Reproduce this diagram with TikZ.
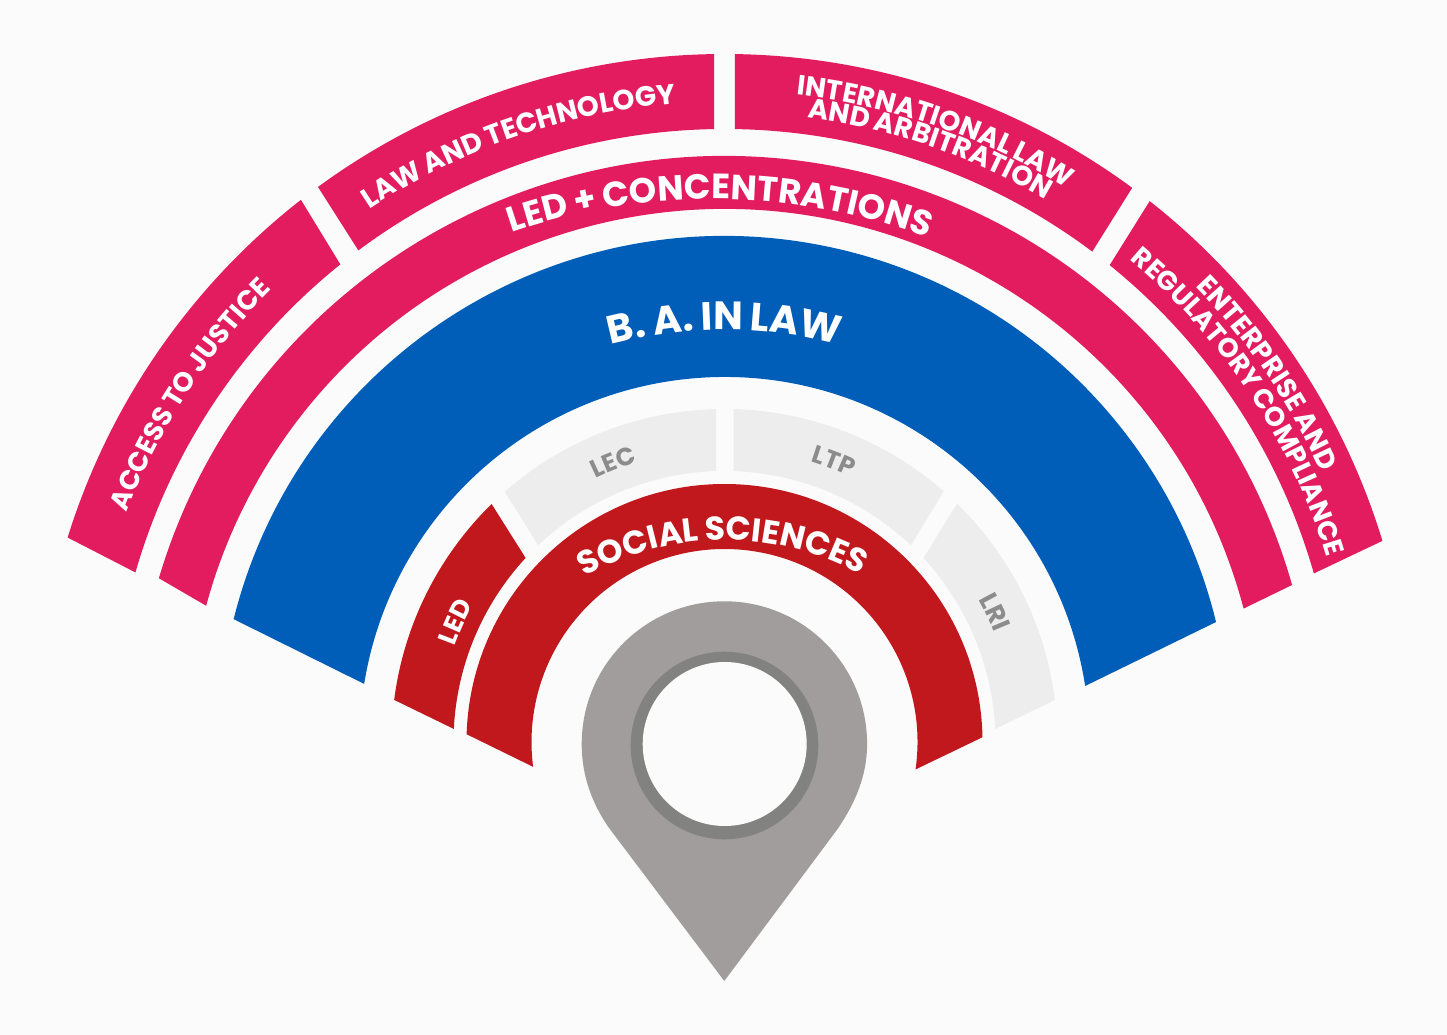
\documentclass[tikz,border=0pt]{standalone}
\usepackage{fontspec}
\setmainfont{Poppins}[WordSpace=0.85]
\usetikzlibrary{decorations.text}
\definecolor{pagebg}{HTML}{FBFBFB}
\definecolor{rosered}{HTML}{E21C5F}
\definecolor{lawblue}{HTML}{005EB8}
\definecolor{deepred}{HTML}{C0181C}
\definecolor{palegray}{HTML}{EDEDED}
\definecolor{labelgray}{HTML}{8C8C8C}
\definecolor{pingray}{HTML}{A09D9C}
\definecolor{ringgray}{HTML}{828280}
% colour, outer r, inner r, outer start/end angle, inner end/start angle
\newcommand{\ringsector}[7]{%
  \fill[#1] (#4:#2) arc[start angle=#4, end angle=#5, radius=#2]
    -- (#6:#3) arc[start angle=#6, end angle=#7, radius=#3] -- cycle;}
% colour, size, baseline r, mid angle, half span, text
\newcommand{\arclabel}[6]{%
  \path[decorate, decoration={text along path, text align=center,
      text={|\fontsize{#2}{#2}\bfseries\color{#1}|#6}}]
    (#4+#5:#3) arc[start angle=#4+#5, end angle=#4-#5, radius=#3];}
\begin{document}
\begin{tikzpicture}[x=1pt, y=1pt]
  \useasboundingbox (0,0) rectangle (1447,1035);
  \fill[pagebg] (0,0) rectangle (1447,1035);
  \begin{scope}[shift={(724.5,293)}]
    % outer band
    \ringsector{rosered}{688}{613}{162.71}{128.0}{128.81}{163.94}
    \ringsector{rosered}{688}{613}{126.22}{90.87}{90.98}{126.68}
    \ringsector{rosered}{688}{613}{89.13}{53.66}{53.13}{89.02}
    \ringsector{rosered}{688}{613}{51.83}{17.0}{15.96}{51.07}
    % concentrations
    \begin{scope}[yshift=-4]
      \ringsector{rosered}{590}{537}{163.48}{15.84}{14.83}{164.86}
    \end{scope}
    % degree
    \ringsector{lawblue}{506}{365}{165.95}{13.72}{8.83}{170.84}
    % inner band
    \ringsector{deepred}{333}{271}{172.74}{134.38}{137.22}{177.24}
    \ringsector{palegray}{333}{271}{131.28}{91.46}{91.8}{133.46}
    \ringsector{palegray}{333}{271}{88.43}{48.83}{46.56}{88.08}
    \ringsector{palegray}{333}{271}{45.7}{7.26}{2.76}{42.74}
    % social sciences
    \ringsector{deepred}{258}{193}{178.28}{1.05}{-8.18}{187.39}
    % labels
    \arclabel{white}{27.2}{640}{147}{30}{ACCESS TO JUSTICE}
    \arclabel{white}{28}{640}{109}{22}{LAW AND TECHNOLOGY}
    \arclabel{white}{27.7}{651}{71}{22}{INTERNATIONAL LAW}
    \arclabel{white}{27.7}{630}{70.9}{22}{AND ARBITRATION}
    \arclabel{white}{27.5}{655}{34.2}{24}{ENTERPRISE AND}
    \arclabel{white}{27}{630}{33.5}{24}{REGULATORY COMPLIANCE}
    \arclabel{labelgray}{25}{293}{111.7}{20}{LEC}
    \arclabel{labelgray}{25}{293}{68.7}{20}{LTP}
    \arclabel{labelgray}{26}{291}{25.7}{20}{LRI}
    \arclabel{white}{26}{286}{155.9}{20}{LED}
    % flatter baselines
    \begin{scope}[shift={(-12,-77)}]
      \arclabel{white}{35}{620}{89.3}{30}{LED + CONCENTRATIONS}
    \end{scope}
    \begin{scope}[yshift=-28]
      \arclabel{white}{39.5}{440}{90}{40}{B. A. IN LAW}
    \end{scope}
    \begin{scope}[yshift=-81]
      \arclabel{white}{33}{283}{90.4}{60}{SOCIAL SCIENCES}
    \end{scope}
  \end{scope}
  % pin
  \fill[pingray] (724.3,54) -- (608.3,208)
    .. controls (592,232) and (581.7,259) .. (581.7,291)
    arc[start angle=180, end angle=0, radius=142.7]
    .. controls (867.1,259) and (855,232) .. (838.3,207) -- cycle;
  \fill[ringgray] (724.5,289.5) circle[radius=93.8];
  \fill[pagebg] (724.7,291) circle[radius=82];
\end{tikzpicture}
\end{document}
